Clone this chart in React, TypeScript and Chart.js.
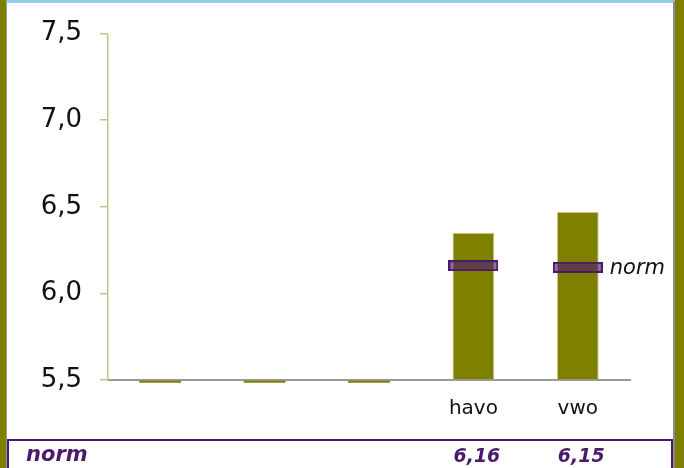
import React, { useEffect, useRef } from "react";
import { Chart, registerables } from "chart.js";

Chart.register(...registerables);

const categories = ["", "", "", "havo", "vwo"];
const scoreValues = [5.484, 5.484, 5.484, 6.35, 6.47];
const normValues: (number | null)[] = [null, null, null, 6.16, 6.15];
const yTicks = [5.5, 6.0, 6.5, 7.0, 7.5];
const axisMin = 5.5;
const axisMax = 7.5;
const normLabel = "norm";

const OLIVE = "#7f7f00";
const PURPLE = "#4b1a6e";
const FONT = "'DejaVu Sans', Verdana, sans-serif";

function makeMarker(): HTMLCanvasElement {
  const c = document.createElement("canvas");
  c.width = 50;
  c.height = 11;
  const ctx = c.getContext("2d")!;
  ctx.fillStyle = "rgba(75,26,110,0.62)";
  ctx.fillRect(1, 1, 48, 9);
  ctx.strokeStyle = PURPLE;
  ctx.lineWidth = 2;
  ctx.strokeRect(1, 1, 48, 9);
  return c;
}

const fmt = (v: number) => v.toFixed(2).replace(".", ",");

export default function App() {
  const ref = useRef<HTMLCanvasElement>(null);
  useEffect(() => {
    if (!ref.current) return;
    const marker = makeMarker();
    const overlay = {
      id: "overlay",
      afterDraw(chart: any) {
        const ctx = chart.ctx;
        const meta = chart.getDatasetMeta(1);
        const xs = chart.scales.x;
        ctx.save();
        let lastIdx = -1;
        normValues.forEach((v, i) => {
          if (v !== null) lastIdx = i;
        });
        if (lastIdx >= 0) {
          const pt = meta.data[lastIdx];
          ctx.font = `italic 21px ${FONT}`;
          ctx.fillStyle = "#111";
          ctx.textAlign = "left";
          ctx.textBaseline = "middle";
          ctx.fillText(normLabel, pt.x + 32, pt.y + 1);
        }
        ctx.fillStyle = PURPLE;
        ctx.textBaseline = "alphabetic";
        ctx.font = `bold italic 21px ${FONT}`;
        ctx.textAlign = "left";
        ctx.fillText(normLabel, 26, 461);
        ctx.font = `bold italic 19px ${FONT}`;
        ctx.textAlign = "center";
        normValues.forEach((v, i) => {
          if (v === null) return;
          ctx.fillText(fmt(v), xs.getPixelForValue(i) + 3.5, 461.5);
        });
        ctx.restore();
      },
    };
    const chart = new Chart(ref.current, {
      type: "bar",
      data: {
        labels: categories,
        datasets: [
          {
            type: "bar",
            label: "score",
            data: scoreValues,
            base: axisMin,
            backgroundColor: OLIVE,
            borderColor: "#c6c68e",
            borderWidth: ((c: any) => (c.raw < axisMin ? 0 : 1)) as any,
            categoryPercentage: 1,
            barPercentage: 0.4,
            clip: false as any,
            order: 2,
          },
          {
            type: "line",
            label: normLabel,
            data: normValues,
            showLine: false,
            pointStyle: marker as any,
            pointRadius: 5,
            pointHoverRadius: 5,
            clip: false as any,
            order: 1,
          },
        ],
      },
      options: {
        animation: false,
        responsive: false,
        events: [],
        layout: { padding: { left: 0, right: 54, top: 33.5, bottom: 0 } },
        plugins: { legend: { display: false }, tooltip: { enabled: false } },
        scales: {
          x: {
            z: 1,
            grid: { display: false, drawTicks: false },
            border: { display: true, color: "#999999", width: 2 },
            ticks: {
              padding: 17,
              color: "#111",
              font: { family: FONT, size: 20 },
              maxRotation: 0,
              autoSkip: false,
            },
            afterFit: (s: any) => {
              s.height = 88;
            },
          },
          y: {
            min: axisMin,
            max: axisMax,
            afterBuildTicks: (s: any) => {
              s.ticks = yTicks.map((v) => ({ value: v }));
            },
            grid: {
              drawOnChartArea: false,
              drawTicks: true,
              tickLength: 8,
              color: "#c4c48a",
              lineWidth: 1.5,
            },
            border: { display: true, color: "#c4c48a", width: 1.5 },
            ticks: {
              padding: 18,
              color: "#111",
              font: { family: FONT, size: 26 },
              callback: (v: any) => Number(v).toFixed(1).replace(".", ","),
            },
            afterFit: (s: any) => {
              s.width = 108;
            },
          },
        },
      },
      plugins: [overlay],
    });
    return () => chart.destroy();
  }, []);

  return (
    <div
      style={{
        position: "fixed",
        left: 0,
        top: 0,
        width: 684,
        height: 468,
        background: OLIVE,
        overflow: "hidden",
      }}
    >
      <div
        style={{
          position: "absolute",
          left: 6,
          top: 0,
          width: 669,
          height: 468,
          background: "#fff",
          borderLeft: "1px solid #999",
          borderRight: "2px solid #8a8a8a",
          borderTop: "3px solid #93cbe8",
          boxSizing: "border-box",
        }}
      />
      <div
        style={{
          position: "absolute",
          left: 7,
          top: 439,
          width: 666,
          height: 40,
          border: `2px solid ${PURPLE}`,
          boxSizing: "border-box",
          background: "#fff",
        }}
      />
      <canvas
        ref={ref}
        width={684}
        height={468}
        style={{ position: "absolute", left: 0, top: 0, width: 684, height: 468 }}
      />
    </div>
  );
}
